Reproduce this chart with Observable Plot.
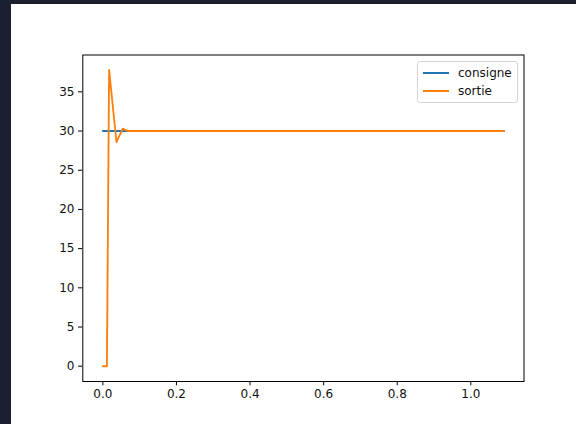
<!DOCTYPE html>
<html><head><meta charset="utf-8">
<script src="https://cdn.jsdelivr.net/npm/d3@7"></script>
<script src="https://cdn.jsdelivr.net/npm/@observablehq/plot@0.6"></script>
<style>
html,body{margin:0;padding:0;background:#1b2030;width:576px;height:424px;overflow:hidden}
#fig{position:absolute;left:11px;top:4px;width:565px;height:420px;background:#fff;overflow:hidden}
#fig svg{position:absolute;left:0;top:0}
#legend{position:absolute;left:406px;top:57px;width:99px;height:40px;border:1px solid #d5d5d5;border-radius:3px;background:rgba(255,255,255,0.8);font-family:"DejaVu Sans",sans-serif;font-size:12px;color:#111}
.row{position:absolute;left:0;height:18px;display:flex;align-items:center}
.sw{display:inline-block;width:26px;height:2px;margin-left:5px;margin-right:9px}
</style></head><body><div id="fig"><div id="legend"></div></div>
<script>
const seriesNames = ["consigne", "sortie"];
const seriesColors = ["#1f77b4", "#ff7f0e"];
const consigneT = [0, 1.09];
const consigneV = [30, 30];
const sortieT = [0, 0.011, 0.017, 0.037, 0.054, 0.068, 1.09];
const sortieV = [0, 0, 37.8, 28.6, 30.3, 30, 30];
const xTicks = [0, 0.2, 0.4, 0.6, 0.8, 1.0];
const yTicks = [0, 5, 10, 15, 20, 25, 30, 35];

const consigne = consigneT.map((t, i) => ({t, v: consigneV[i], s: seriesNames[0]}));
const sortie = sortieT.map((t, i) => ({t, v: sortieV[i], s: seriesNames[1]}));

const chart = Plot.plot({
  width: 565, height: 420,
  marginLeft: 71.3, marginRight: 52.5, marginTop: 50.5, marginBottom: 43,
  style: {fontFamily: "DejaVu Sans, sans-serif", fontSize: "12px", color: "#111", background: "transparent"},
  x: {domain: [-0.0545, 1.1445]},
  y: {domain: [-1.95, 39.7]},
  marks: [
    Plot.axisX({ticks: xTicks, tickFormat: d3.format(".1f"), tickSize: 4.3, tickPadding: 3.5, label: null, stroke: "#000", fontSize: 12}),
    Plot.axisY({ticks: yTicks, tickFormat: d3.format("d"), tickSize: 4.3, tickPadding: 4, label: null, stroke: "#000", fontSize: 12}),
    Plot.line(consigne, {x: "t", y: "v", stroke: seriesColors[0], strokeWidth: 1.85}),
    Plot.line(sortie, {x: "t", y: "v", stroke: seriesColors[1], strokeWidth: 1.85}),
    Plot.frame({stroke: "#000", strokeWidth: 1})
  ]
});
document.getElementById("fig").appendChild(chart);

const lg = document.getElementById("legend");
seriesNames.forEach((n, i) => {
  const r = document.createElement("div");
  r.className = "row";
  r.style.top = (2 + i * 18) + "px";
  r.innerHTML = `<span class="sw" style="background:${seriesColors[i]}"></span><span>${n}</span>`;
  lg.appendChild(r);
});
</script></body></html>
